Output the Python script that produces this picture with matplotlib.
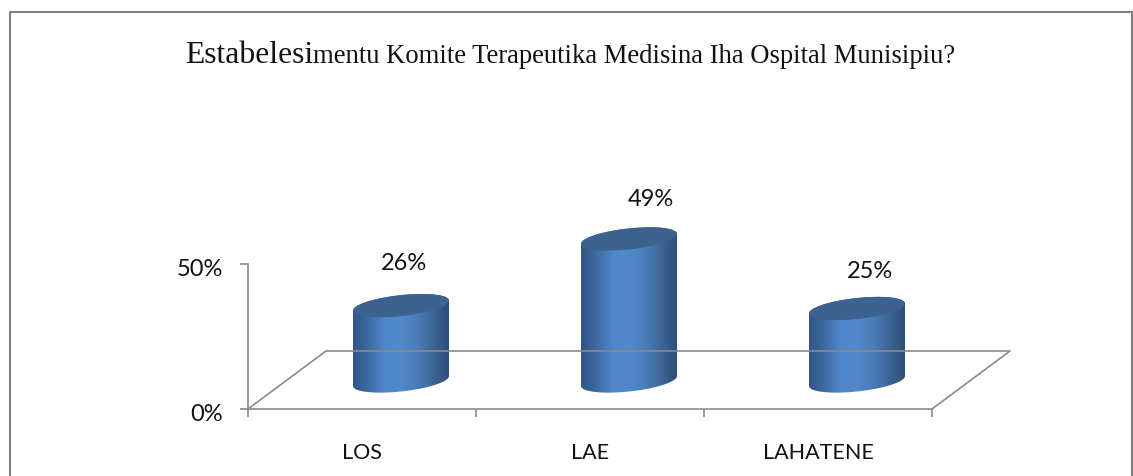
import numpy as np
import matplotlib
matplotlib.use("Agg")
import matplotlib.pyplot as plt
from matplotlib.lines import Line2D
from matplotlib.patches import PathPatch
from matplotlib.path import Path
from matplotlib.transforms import IdentityTransform, Affine2D
from matplotlib.colors import LinearSegmentedColormap

categories = ["LOS", "LAE", "LAHATENE"]
values = [26, 49, 25]
value_labels = ["26%", "49%", "25%"]
y_ticks = [0, 50]
y_tick_labels = ["0%", "50%"]
title_big = "Estabelesi"
title_small = "mentu Komite Terapeutika Medisina Iha Ospital Munisipiu?"

W, H = 1133, 477
GRAY = "#8a8a8a"
BODY = LinearSegmentedColormap.from_list(
    "body", ["#2f5687", "#3f6ba3", "#5087cb", "#5289cc", "#4a7cb8", "#3d6799", "#2c4d75"])
TOP = "#3c6290"
DEPTH = (78, 58)
CYL_SHIFT = (39, 28)
label_offsets = [(3, 43), (22, 40), (13, 38)]
HALF_W, ELL_B, ELL_K = 48, 10.5, 5

fig = plt.figure(figsize=(W / 100, H / 100), dpi=100, facecolor="white")
ax = fig.add_axes([248 / W, (H - 410) / H, 684 / W, 145 / H])
ax.set_xlim(0, 3)
ax.set_ylim(0, 50)
ax.patch.set_visible(False)
for s in ("top", "right"):
    ax.spines[s].set_visible(False)
for s in ("left", "bottom"):
    ax.spines[s].set_color(GRAY)
    ax.spines[s].set_linewidth(1.2)
    ax.spines[s].set_zorder(1)

font = ["Lato", "DejaVu Sans"]
ax.set_xticks(range(4))
ax.set_xticklabels([])
ax.set_yticks(y_ticks)
ax.set_yticklabels(y_tick_labels, fontsize=17, family=font, color="#111111")
ax.tick_params(axis="both", length=5.8, width=1.2, color=GRAY)
ax.tick_params(axis="y", pad=12)
for lab in ax.get_yticklabels():
    lab.set_transform(lab.get_transform() + Affine2D().translate(0, -2.5))
for i, c in enumerate(categories):
    ax.annotate(c, (i + 0.5, 0), xytext=(0, -43), textcoords="offset pixels",
                ha="center", va="center", fontsize=15.5, family=font, color="#111111")

# Floor of the 3-D plot
to_px = ax.transData
p00 = to_px.transform((0, 0))
p30 = to_px.transform((3, 0))
dx, dy = DEPTH
floor = np.array([p00, p00 + (dx, dy), p30 + (dx, dy), p30])
fig.add_artist(Line2D(floor[:, 0], floor[:, 1], color=GRAY, lw=1.2,
                      transform=IdentityTransform(), zorder=1))

# Cylinders
t = np.linspace(0, 2 * np.pi, 121)
ex = HALF_W * np.cos(t)
ey = ELL_B * np.sin(t) + ELL_K * np.cos(t)
grad = np.linspace(0, 1, 256).reshape(1, -1)
inv = ax.transData.inverted()
for i, v in enumerate(values):
    base = to_px.transform((i + 0.5, 0)) + CYL_SHIFT
    top = to_px.transform((i + 0.5, v)) + CYL_SHIFT
    tt = t[t <= np.pi]
    # outline: upper half of the top ellipse, lower half of the base ellipse
    up_x = HALF_W * np.cos(tt) + top[0]
    up_y = ELL_B * np.sin(tt) + ELL_K * np.cos(tt) + top[1]
    lo_x = HALF_W * np.cos(tt + np.pi) + base[0]
    lo_y = ELL_B * np.sin(tt + np.pi) + ELL_K * np.cos(tt + np.pi) + base[1]
    verts = np.column_stack([np.r_[up_x, lo_x], np.r_[up_y, lo_y]])
    verts = np.vstack([verts, verts[0]])
    clip = PathPatch(Path(verts), transform=IdentityTransform(), facecolor="none", edgecolor="none")
    fig.add_artist(clip)
    (dx0, dy0), (dx1, dy1) = (inv.transform((base[0] - HALF_W, base[1] - 20)),
                              inv.transform((base[0] + HALF_W, top[1] + 20)))
    im = ax.imshow(grad, extent=(dx0, dx1, dy0, dy1), cmap=BODY, aspect="auto",
                   zorder=3, interpolation="bilinear")
    im.set_clip_box(fig.bbox)
    im.set_clip_path(clip)
    ax.add_patch(PathPatch(Path(np.column_stack([ex + top[0], ey + top[1]])),
                           transform=IdentityTransform(), facecolor=TOP,
                           edgecolor="none", zorder=4, clip_on=False))
    ox, oy = label_offsets[i]
    ax.annotate(value_labels[i], xy=tuple(top + (ox, oy)), xycoords="figure pixels",
                ha="center", va="center", fontsize=17, family=font, color="#111111", zorder=5)
ax.set_xlim(0, 3)
ax.set_ylim(0, 50)

# Outer frame (open at the bottom of the crop)
fig.add_artist(Line2D(np.array([9.5, 9.5, 1131.5]), H - np.array([H, 13, 13]), color="#808080", lw=1.5,
                      transform=IdentityTransform()))
fig.add_artist(Line2D(np.array([1131.5, 1131.5]), H - np.array([13, H]), color="#808080", lw=1.5,
                      transform=IdentityTransform()))

# Title in two sizes, set on one baseline
serif = ["Liberation Serif", "DejaVu Serif"]
fig.text(185 / W, (H - 63) / H, title_big, fontsize=22.8, family=serif,
         color="#111111", ha="left", va="baseline")
fig.text(313 / W, (H - 63) / H, title_small, fontsize=19.2, family=serif,
         color="#111111", ha="left", va="baseline")

fig.savefig("out.png", dpi=100, facecolor="white")
